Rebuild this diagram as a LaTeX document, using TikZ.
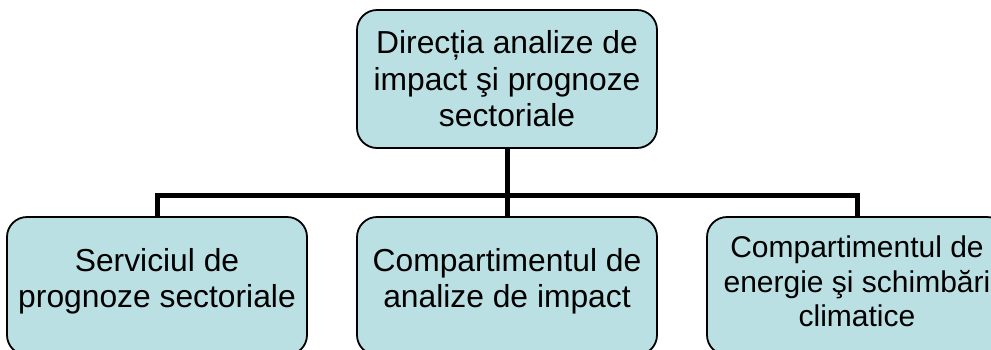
\documentclass[tikz,border=0pt]{standalone}
\usepackage{fontspec}
\setmainfont{Liberation Sans}
\usepackage{tikz}
\usetikzlibrary{calc}

\begin{document}
\begin{tikzpicture}[x=1pt,y=-1pt,
        unitbox/.style={draw=black,line width=1.8pt,fill=boxfill,rounded corners=20pt,
            minimum width=300pt,minimum height=138pt,align=center,inner sep=0pt,
            font=\fontsize{31.8}{36.5}\selectfont},
        link/.style={draw=black,line width=5pt}]
        \definecolor{boxfill}{HTML}{BBE0E3}
        \useasboundingbox (0,0) rectangle (991,349);
        \clip (0,0) rectangle (991,349);
        % top box
        \node[unitbox] (dir) at (507,79) {Direcția analize de\\impact şi prognoze\\sectoriale};
        % bottom line
        \node[unitbox,text depth=16pt] (serv) at (157,286) {Serviciul de\\prognoze sectoriale};
        \node[unitbox,text depth=16pt] (anal) at (507,286) {Compartimentul de\\analize de impact};
        \node[unitbox,text depth=9pt,font=\fontsize{30}{34.5}\selectfont] (energ) at (857,286)
            {Compartimentul de\\energie şi schimbări\\climatice};
        % connectors
        \coordinate (bus) at ($(dir.south)+(0,47)$);
        \draw[link] (dir.south) -- (bus) -| (serv.north);
        \draw[link] (bus) -| (energ.north);
        \draw[link] (bus) -- (anal.north);
    \end{tikzpicture}
\end{document}
